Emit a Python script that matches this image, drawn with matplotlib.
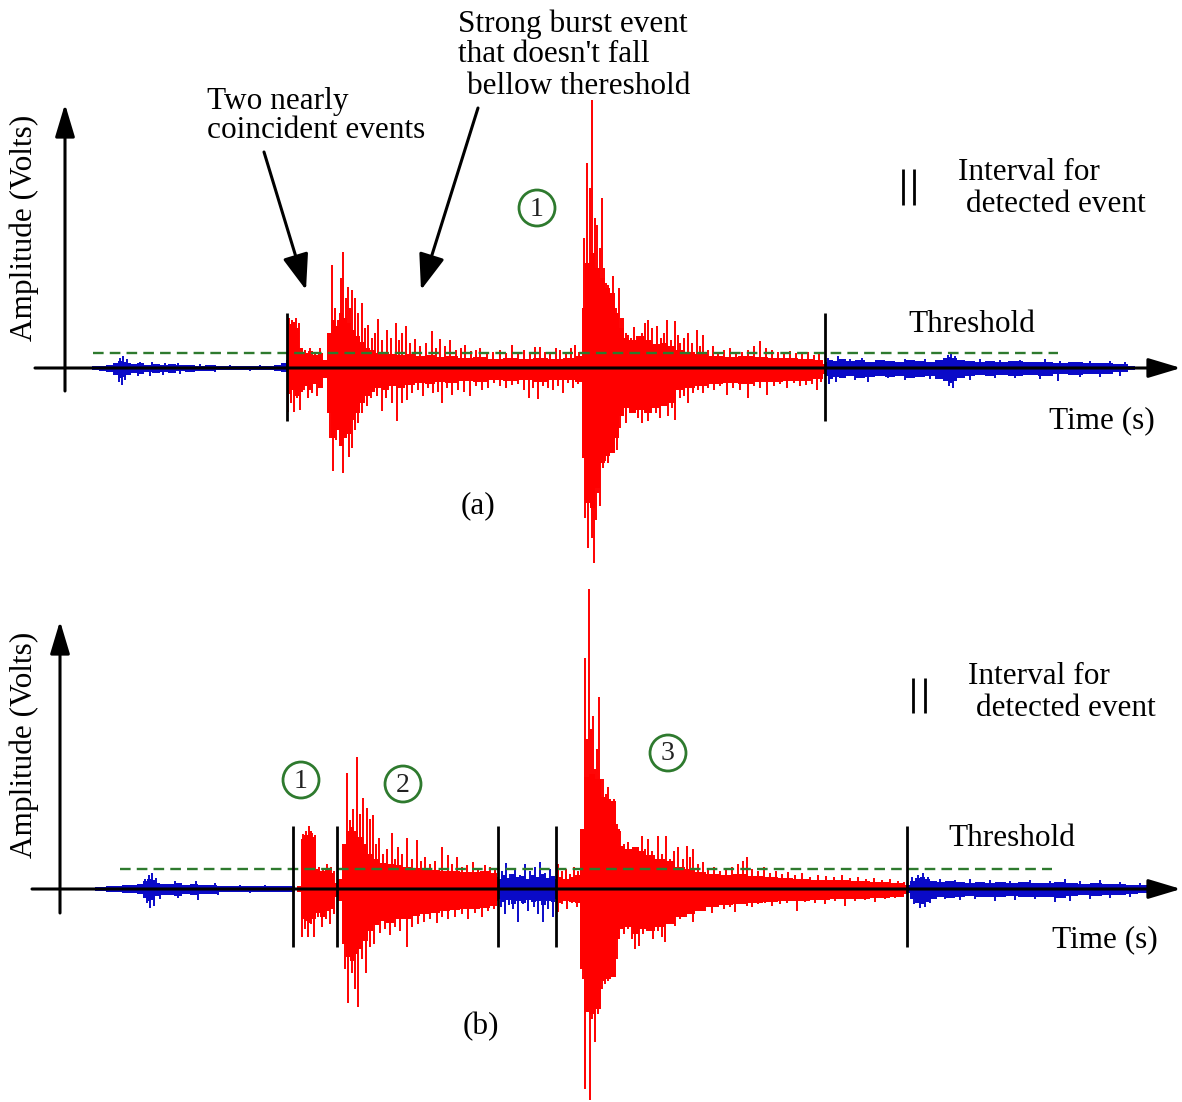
import matplotlib
matplotlib.use('Agg')
import matplotlib.pyplot as plt
from matplotlib.patches import Ellipse

W, H = 1182, 1102
FONT = ['Liberation Serif', 'DejaVu Serif']
RED = '#ff0000'
BLUE = '#0a0ac8'
GREEN = '#2e7a2e'

# ---------------- data (time in px units, amplitude in px units) -------------
# Panel (a)
A_BASE = 368
A_THRESH = 15
A_THRESH_RANGE = [93, 1058]
A_EVENT_LINES = [287, 825]

a_blue1_x = [88, 95, 102, 110, 116, 120, 124, 128, 134, 140, 148, 156, 164, 172, 180, 190, 200,
             210, 222, 234, 246, 258, 270, 278, 284, 287]
a_blue1_top = [1, 2, 2, 3, 5, 7, 6, 5, 4, 5, 3, 4, 3, 4, 3, 3, 2, 3, 2, 2, 2, 2, 2, 3, 5, 8]
a_blue1_bot = [-1, -2, -3, -4, -7, -10, -9, -7, -5, -6, -4, -5, -4, -5, -3, -4, -3, -3, -2, -2,
               -2, -2, -2, -3, -4, -4]
a_blue1_up_x = [120, 123, 127, 140, 152, 165, 178, 200, 230, 260]
a_blue1_up = [10, 12, 9, 6, 6, 5, 5, 4, 3, 3]
a_blue1_dn_x = [119, 122, 125, 138, 150, 163, 180, 215, 250]
a_blue1_dn = [-14, -17, -12, -8, -8, -7, -6, -4, -3]

a_red_x = [287, 289, 293, 297, 300, 305, 310, 315, 320, 325, 329, 333, 337, 341, 345, 349, 353,
           357, 362, 367, 372, 378, 385, 392, 400, 410, 420, 430, 440, 450, 465, 480, 495, 510,
           525, 540, 555, 570, 580, 583, 587, 592, 597, 602, 607, 612, 617, 621, 626, 632, 640,
           648, 656, 664, 672, 680, 690, 700, 715, 730, 745, 760, 775, 790, 805, 820, 825]
a_red_top = [0, 44, 46, 40, 20, 15, 17, 13, 15, 8, 35, 48, 42, 55, 50, 45, 38,
             32, 26, 20, 18, 15, 16, 14, 13, 14, 12, 13, 11, 12, 10, 11, 9, 10,
             9, 10, 9, 10, 12, 60, 105, 115, 100, 90, 80, 75, 55, 40, 30, 28, 32,
             28, 24, 25, 22, 18, 16, 14, 12, 11, 12, 11, 10, 10, 9, 8, 4]
a_red_bot = [0, -26, -22, -28, -24, -18, -22, -16, -20, -10, -45, -70, -62, -78, -70, -66, -52,
             -45, -35, -28, -24, -20, -22, -18, -20, -17, -15, -16, -14, -15, -13, -14, -12, -13,
             -12, -14, -12, -12, -14, -90, -135, -140, -120, -95, -88, -85, -70, -48, -40, -45, -42,
             -45, -40, -38, -35, -22, -20, -18, -16, -15, -16, -14, -14, -13, -13, -11, -6]
a_red_up_x = [289, 292, 296, 299, 305, 310, 315, 320, 332, 335, 338, 341, 343, 346, 348, 350,
              352, 355, 358, 362, 365, 368, 372, 375, 378, 382, 387, 391, 396, 399, 402, 406,
              410, 415, 420, 426, 432, 436, 440, 445, 450, 456, 461, 465, 471, 476, 480, 487,
              493, 500, 506, 512, 518, 524, 530, 535, 540, 545, 550, 556, 560, 566, 571, 575,
              579,
              584, 587, 590, 592, 595, 597, 600, 602, 604, 606, 608, 611, 613, 616, 619, 621,
              623, 626, 628, 631, 634, 638, 642, 645, 648, 652, 657, 661, 664, 667, 671, 675,
              678, 680, 684, 688, 692, 697, 700, 703, 708, 713, 718, 724, 730, 736, 742, 748,
              754, 760, 766, 772, 778, 784, 790, 796, 802, 808, 814, 819]
a_red_up = [50, 48, 50, 45, 18, 20, 16, 20, 103, 60, 48, 90, 116, 70, 81, 60,
            78, 70, 55, 65, 40, 43, 30, 35, 49, 28, 38, 30, 45, 28, 35, 42,
            25, 29, 22, 25, 37, 20, 29, 22, 28, 18, 20, 23, 17, 18, 20, 14,
            16, 18, 15, 23, 14, 18, 16, 21, 21, 16, 14, 20, 18, 14, 20, 23,
            16,
            130, 205, 180, 268, 150, 143, 120, 170, 100, 85, 83, 75, 92, 60, 80, 50,
            50, 35, 33, 30, 41, 30, 35, 45, 48, 40, 42, 30, 35, 48, 28, 47,
            33, 25, 30, 35, 25, 38, 22, 33, 18, 22, 16, 18, 20, 15, 16, 18,
            22, 27, 20, 18, 16, 14, 17, 15, 14, 16, 13, 14]
a_red_dn_x = [288, 291, 294, 297, 300, 304, 308, 312, 317, 322, 330, 333, 336, 339, 343, 346,
              349, 352, 355, 358, 362, 367, 371, 377, 382, 386, 392, 397, 402, 407, 412, 418,
              423, 428, 433, 438, 442, 447, 452, 458, 464, 470, 476, 482, 488, 494, 500, 506,
              512, 518, 524, 529, 533, 538, 543, 548, 553, 558, 563, 568, 573, 578,
              585, 588, 590, 592, 594, 596, 598, 600, 603, 605, 608, 610, 613, 617, 620, 623,
              626, 630, 634, 638, 642, 645, 648, 652, 656, 660, 664, 668, 672, 675, 680, 684,
              688, 693, 698, 703, 708, 714, 720, 727, 733, 740, 748, 754, 760, 767, 774, 780,
              787, 794, 800, 806, 812, 817, 821]
a_red_dn = [-44, -35, -44, -30, -42, -22, -30, -25, -28, -20, -70, -103, -72, -60, -105, -67,
            -89, -80, -62, -55, -45, -38, -30, -28, -43, -30, -35, -53, -35, -32, -25, -22,
            -28, -20, -25, -24, -35, -20, -27, -22, -24, -28, -18, -22, -20, -15, -18, -20,
            -17, -16, -22, -30, -20, -31, -18, -20, -22, -18, -25, -15, -20, -16,
            -150, -180, -113, -170, -195, -152, -125, -138, -100, -93, -95, -85, -80, -82, -60, -48,
            -55, -42, -45, -50, -55, -42, -53, -40, -45, -50, -38, -48, -40, -52, -30, -28,
            -35, -25, -22, -25, -20, -22, -18, -27, -20, -22, -30, -18, -20, -27, -18, -16,
            -20, -15, -18, -17, -16, -22, -14]

a_blue2_x = [825, 830, 836, 842, 850, 860, 870, 880, 890, 900, 910, 920, 930, 940, 946, 950, 954,
             960, 970, 980, 990, 1000, 1015, 1030, 1045, 1060, 1075, 1090, 1105, 1120, 1135]
a_blue2_top = [6, 8, 7, 9, 7, 8, 6, 8, 7, 6, 8, 7, 6, 8, 10, 11, 10, 8, 7, 6, 7, 6, 7, 6, 6, 5,
               6, 5, 5, 4, 2]
a_blue2_bot = [-8, -11, -9, -10, -8, -10, -9, -8, -9, -8, -10, -9, -8, -11, -13, -15, -13, -10,
               -8, -7, -8, -7, -8, -7, -8, -6, -7, -6, -6, -4, -2]
a_blue2_up_x = [828, 838, 850, 862, 880, 905, 925, 948, 951, 955, 980, 1000, 1020, 1045,
                1060, 1090, 1110, 1125]
a_blue2_up = [10, 12, 9, 10, 8, 9, 9, 13, 16, 12, 9, 8, 8, 9, 7, 7, 7, 6]
a_blue2_dn_x = [829, 836, 855, 868, 888, 905, 930, 949, 953, 970, 995, 1015, 1040, 1058,
                1080, 1100, 1120]
a_blue2_dn = [-16, -14, -12, -14, -10, -12, -11, -18, -20, -12, -10, -10, -11, -13, -9, -9, -8]

# Panel (b)
B_BASE = 889
B_THRESH = 20
B_THRESH_RANGE = [120, 1052]
B_EVENT_LINES = [293, 337, 498, 556, 907]

b_blue1_x = [95, 102, 110, 118, 126, 134, 140, 145, 149, 153, 157, 162, 170, 178, 186, 194, 202,
             212, 222, 232, 244, 256, 268, 280, 290, 295]
b_blue1_top = [2, 2, 3, 3, 4, 4, 5, 8, 10, 9, 6, 5, 5, 6, 4, 5, 4, 4, 3, 3, 3, 3, 3, 3, 3, 3]
b_blue1_bot = [-2, -2, -3, -3, -4, -4, -5, -9, -12, -11, -7, -6, -6, -7, -5, -6, -5, -5, -3, -3,
               -3, -3, -3, -3, -3, -3]
b_blue1_up_x = [145, 149, 152, 156, 175, 196, 215, 240, 265]
b_blue1_up = [10, 14, 16, 11, 8, 8, 6, 4, 4]
b_blue1_dn_x = [147, 150, 154, 160, 178, 198, 218, 250]
b_blue1_dn = [-14, -19, -17, -10, -9, -11, -6, -4]

b_red1_x = [293, 300, 302, 306, 310, 314, 317, 322, 327, 332, 336, 340, 344, 348, 352, 356, 360,
            365, 370, 375, 382, 390, 398, 406, 415, 425, 435, 445, 455, 465, 475, 485, 495, 498]
b_red1_top = [0, 3, 50, 54, 58, 52, 20, 18, 20, 16, 6, 10, 45, 58, 62, 58, 52,
              45, 35, 30, 26, 25, 24, 22, 21, 20, 19, 18, 18, 17, 17, 18, 16, 12]
b_red1_bot = [0, -3, -30, -32, -34, -30, -24, -28, -22, -20, -8, -12, -55, -68, -72, -65, -60,
              -52, -42, -36, -32, -34, -30, -30, -27, -25, -24, -22, -21, -20, -20, -19, -17, -12]
b_red1_up_x = [303, 306, 309, 312, 315, 319, 323, 327, 331, 334, 343, 347, 350, 353, 357, 360,
               363, 367, 370, 373, 376, 379, 383, 387, 392, 395, 398, 402, 407, 412, 417, 421,
               425, 430, 435, 442, 448, 452, 457, 462, 467, 473, 478, 485, 490, 495]
b_red1_up = [55, 58, 63, 56, 54, 22, 20, 25, 22, 18, 40, 116, 69, 80, 132, 75,
             91, 81, 70, 74, 45, 51, 35, 40, 56, 30, 42, 35, 51, 30, 49, 28,
             32, 25, 28, 42, 34, 25, 32, 22, 24, 27, 20, 24, 22, 20]
b_red1_dn_x = [302, 305, 308, 311, 314, 318, 322, 326, 330, 334, 345, 348, 352, 355, 358, 362,
               366, 370, 374, 380, 385, 390, 395, 400, 407, 412, 418, 424, 430, 437, 442, 448,
               455, 462, 468, 475, 482, 488, 494]
b_red1_dn = [-48, -40, -48, -35, -48, -28, -38, -30, -35, -25, -80, -114, -84, -100, -118, -70,
             -84, -58, -55, -44, -40, -46, -38, -42, -58, -38, -35, -33, -30, -34, -28, -30,
             -28, -25, -30, -24, -28, -22, -20]

b_blue2_x = [498, 503, 508, 513, 518, 523, 528, 533, 538, 543, 548, 553, 556]
b_blue2_top = [10, 14, 11, 15, 12, 13, 10, 14, 12, 15, 11, 13, 10]
b_blue2_bot = [-10, -13, -11, -15, -12, -14, -11, -13, -12, -16, -12, -13, -10]
b_blue2_up_x = [502, 506, 510, 515, 520, 525, 530, 535, 540, 545, 550]
b_blue2_up = [18, 26, 15, 20, 14, 25, 18, 22, 27, 16, 20]
b_blue2_dn_x = [501, 505, 509, 513, 518, 523, 528, 534, 538, 543, 548, 553]
b_blue2_dn = [-18, -25, -16, -20, -33, -15, -22, -18, -25, -33, -20, -28]

b_red2_x = [556, 560, 566, 572, 578, 582, 586, 592, 598, 603, 608, 613, 618, 622, 628, 635, 642,
            650, 660, 670, 680, 690, 700, 712, 725, 740, 755, 770, 785, 800, 820, 840, 860, 880,
            900, 907]
b_red2_top = [10, 12, 10, 12, 14, 60, 112, 115, 110, 92, 90, 88, 60, 43, 40, 42, 38,
              34, 30, 28, 22, 20, 17, 15, 14, 15, 13, 12, 11, 10, 9, 9, 8, 7, 6, 4]
b_red2_bot = [-10, -14, -12, -13, -14, -80, -123, -125, -120, -92, -90, -88, -50, -40, -38, -45,
              -40, -42, -38, -35, -28, -25, -22, -18, -16, -15, -14, -13, -12, -12, -11, -10,
              -10, -9, -8, -5]
b_red2_up_x = [558, 562, 566, 570, 574, 578, 582, 585, 587, 589, 591, 593, 595, 597, 599, 601,
               603, 606, 608, 611, 614, 617, 620, 624, 628, 632, 636, 642, 645, 648, 652, 658,
               662, 666, 670, 674, 678, 683, 687, 690, 693, 698, 703, 708, 714, 720, 726, 732,
               738, 743, 747, 752, 758, 764, 770, 776, 782, 788, 795, 802, 810, 818, 826, 834,
               842, 850, 858, 866, 874, 882, 890, 898, 904]
b_red2_up = [25, 18, 20, 15, 22, 18, 40, 231, 150, 300, 160, 173, 120, 140, 192, 110,
             110, 95, 102, 80, 90, 65, 58, 45, 47, 35, 40, 53, 40, 50, 38, 53,
             35, 53, 30, 38, 42, 30, 43, 32, 40, 25, 27, 20, 22, 18, 20, 22,
             25, 28, 32, 20, 18, 22, 16, 18, 15, 17, 14, 16, 12, 14, 13, 12,
             14, 11, 12, 10, 11, 9, 10, 8, 7]
b_red2_dn_x = [558, 562, 567, 572, 577, 583, 585, 587, 590, 592, 595, 598, 600, 602, 605, 608,
               611, 614, 617, 620, 624, 628, 632, 635, 639, 643, 647, 653, 658, 662, 665, 670,
               675, 680, 686, 693, 699, 705, 712, 718, 724, 730, 735, 741, 747, 752, 758, 765,
               772, 780, 787, 797, 805, 815, 825, 835, 845, 855, 865, 875, 885, 895, 903]
b_red2_dn = [-23, -15, -20, -14, -18, -90, -200, -123, -211, -130, -153, -125, -115, -100, -95, -92,
             -85, -88, -70, -33, -45, -40, -50, -60, -57, -45, -40, -50, -42, -48, -53, -35,
             -37, -30, -28, -33, -22, -20, -24, -18, -20, -18, -23, -15, -17, -18, -15, -14,
             -17, -15, -14, -22, -13, -14, -15, -12, -17, -12, -11, -13, -10, -9, -8]

b_blue3_x = [907, 912, 917, 922, 927, 933, 940, 950, 960, 970, 980, 990, 1000, 1012, 1024, 1036,
             1048, 1060, 1072, 1084, 1096, 1108, 1120, 1132, 1144, 1152]
b_blue3_top = [4, 8, 11, 12, 10, 8, 7, 8, 7, 6, 7, 6, 7, 6, 7, 6, 6, 7, 6, 5, 6, 5, 5, 4, 4, 3]
b_blue3_bot = [-4, -10, -14, -15, -13, -10, -8, -9, -8, -7, -8, -8, -8, -7, -8, -8, -8, -9, -7,
               -6, -7, -6, -6, -5, -4, -3]
b_blue3_up_x = [912, 918, 923, 928, 940, 955, 970, 990, 1010, 1030, 1050, 1065, 1080, 1100, 1120, 1140]
b_blue3_up = [12, 14, 16, 12, 10, 9, 10, 9, 8, 9, 8, 10, 8, 9, 7, 6]
b_blue3_dn_x = [914, 920, 925, 930, 945, 960, 975, 995, 1015, 1035, 1055, 1070, 1090, 1110, 1130]
b_blue3_dn = [-15, -19, -18, -14, -10, -11, -10, -12, -11, -10, -13, -12, -10, -9, -8]

# ---------------- figure ----------------
fig = plt.figure(figsize=(W / 100, H / 100), dpi=100)
ax = fig.add_axes([0, 0, 1, 1])
ax.set_xlim(0, W)
ax.set_ylim(H, 0)
ax.axis('off')


def seg(base, x, top, bot, ux, ua, dx, da, color):
    ax.fill_between(x, [base - t for t in top], [base - b for b in bot], step='mid',
                    color=color, lw=0, zorder=2)
    ax.vlines(ux, base, [base - a for a in ua], color=color, lw=1.4, zorder=2)
    ax.vlines(dx, base, [base - a for a in da], color=color, lw=1.4, zorder=2)


# panel (a) signal
seg(A_BASE, a_blue1_x, a_blue1_top, a_blue1_bot, a_blue1_up_x, a_blue1_up, a_blue1_dn_x, a_blue1_dn, BLUE)
seg(A_BASE, a_red_x, a_red_top, a_red_bot, a_red_up_x, a_red_up, a_red_dn_x, a_red_dn, RED)
seg(A_BASE, a_blue2_x, a_blue2_top, a_blue2_bot, a_blue2_up_x, a_blue2_up, a_blue2_dn_x, a_blue2_dn, BLUE)
# panel (b) signal
seg(B_BASE, b_blue1_x, b_blue1_top, b_blue1_bot, b_blue1_up_x, b_blue1_up, b_blue1_dn_x, b_blue1_dn, BLUE)
seg(B_BASE, b_red1_x, b_red1_top, b_red1_bot, b_red1_up_x, b_red1_up, b_red1_dn_x, b_red1_dn, RED)
seg(B_BASE, b_blue2_x, b_blue2_top, b_blue2_bot, b_blue2_up_x, b_blue2_up, b_blue2_dn_x, b_blue2_dn, BLUE)
seg(B_BASE, b_red2_x, b_red2_top, b_red2_bot, b_red2_up_x, b_red2_up, b_red2_dn_x, b_red2_dn, RED)
seg(B_BASE, b_blue3_x, b_blue3_top, b_blue3_bot, b_blue3_up_x, b_blue3_up, b_blue3_dn_x, b_blue3_dn, BLUE)

# thresholds
for base, thr, rng in [(A_BASE, A_THRESH, A_THRESH_RANGE), (B_BASE, B_THRESH, B_THRESH_RANGE)]:
    ax.plot(rng, [base - thr, base - thr], color=GREEN, lw=1.7,
            linestyle=(0, (4.5, 2.6)), zorder=4)


def arrow(x0, y0, x1, y1, lw=2.2, hl=1.0, hw=0.3):
    ax.annotate('', xy=(x1, y1), xytext=(x0, y0),
                arrowprops=dict(arrowstyle='-|>,head_length=%g,head_width=%g' % (hl, hw),
                                lw=lw, color='black', shrinkA=0, shrinkB=0,
                                mutation_scale=20), zorder=5)


# axes of panel (a)
arrow(35, A_BASE, 1181, A_BASE)
arrow(65, 391, 65, 104)
# axes of panel (b)
arrow(32, B_BASE, 1181, B_BASE)
arrow(60, 913, 60, 621)

# event boundaries
ax.vlines(A_EVENT_LINES, 313, 421, color='black', lw=2.0, zorder=5)
ax.vlines(B_EVENT_LINES, 826, 947, color='black', lw=2.0, zorder=5)

# legend-like "||" markers
ax.vlines([903, 914], 169, 205, color='black', lw=2.0, zorder=5)
ax.vlines([913, 925], 678, 713, color='black', lw=2.0, zorder=5)

# annotation arrows
arrow(264, 152, 306, 290, lw=2.2, hl=1.1, hw=0.4)
arrow(478, 108, 421, 290, lw=2.2, hl=1.1, hw=0.4)

fs = 22.5
tk = dict(fontsize=fs, family=FONT, color='black', zorder=6)
ax.text(207, 101, 'Two nearly', ha='left', va='center', **tk)
ax.text(207, 131, 'coincident events', ha='left', va='center', **tk)
ax.text(458, 24, 'Strong burst event', ha='left', va='center', **tk)
ax.text(458, 54, "that doesn't fall", ha='left', va='center', **tk)
ax.text(467, 86, 'bellow thereshold', ha='left', va='center', **tk)

ax.text(958, 173, 'Interval for', ha='left', va='center', **tk)
ax.text(966, 204, 'detected event', ha='left', va='center', **tk)
ax.text(968, 677, 'Interval for', ha='left', va='center', **tk)
ax.text(976, 708, 'detected event', ha='left', va='center', **tk)

ax.text(972, 324, 'Threshold', ha='center', va='center', **tk)
ax.text(1012, 838, 'Threshold', ha='center', va='center', **tk)
ax.text(1102, 421, 'Time (s)', ha='center', va='center', **tk)
ax.text(1105, 940, 'Time (s)', ha='center', va='center', **tk)
ax.text(478, 506, '(a)', ha='center', va='center', **tk)
ax.text(481, 1027, '(b)', ha='center', va='center', **tk)
ax.text(24, 228, 'Amplitude (Volts)', ha='center', va='center', rotation=90, **tk)
ax.text(24, 745, 'Amplitude (Volts)', ha='center', va='center', rotation=90, **tk)

# circled event numbers
circles = [(537, 208, '1'), (301, 780, '1'), (403, 784, '2'), (668, 753, '3')]
for cx, cy, lab in circles:
    ax.add_patch(Ellipse((cx, cy), 36, 36, fill=False, edgecolor=GREEN, lw=2.0, zorder=6))
    ax.text(cx, cy + 1, lab, ha='center', va='center', fontsize=20, family=FONT,
            color='#222222', zorder=7)

fig.savefig('out.png', dpi=100)
